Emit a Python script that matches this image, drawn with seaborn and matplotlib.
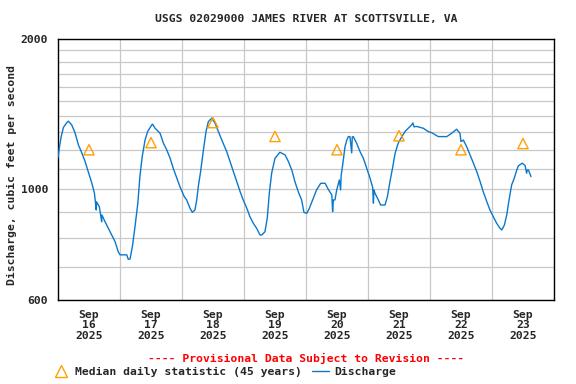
import pandas as pd
import numpy as np
import matplotlib
matplotlib.use('Agg')
import matplotlib.pyplot as plt
from matplotlib.lines import Line2D
from matplotlib.ticker import FixedLocator, NullFormatter, FixedFormatter
import seaborn as sns

# discharge: hours after 2025-09-16 00:00, cfs
hours = [0.0, 0.4, 1.2, 2.1, 3.4, 4.0, 5.3, 6.6, 7.9, 9.2, 10.5, 11.7, 13.1, 14.1,
         14.8, 14.9, 16.0, 16.9, 17.0, 18.2, 19.5, 20.8, 22.1, 23.3, 24.0, 26.6, 27.2,
         27.9, 28.8, 29.8, 30.9, 31.7, 32.6, 33.7, 34.7, 36.3, 36.6, 37.6, 39.5, 40.8,
         42.1, 43.4, 44.6, 46.0, 47.2, 48.9, 49.8, 51.1, 52.0, 53.0, 53.7, 54.3, 55.2,
         56.3, 57.3, 58.2, 59.5, 60.8, 62.1, 63.4, 65.3, 66.6, 67.9, 69.2, 70.5, 71.7,
         73.1, 74.3, 75.6, 76.9, 78.2, 78.9, 80.1, 81.0, 81.8, 82.7, 84.0, 85.9, 87.9,
         89.2, 90.5, 91.7, 93.0, 94.3, 95.2, 96.3, 97.3, 98.8, 100.1, 101.7, 103.4,
         104.6, 106.0, 106.3, 106.6, 107.2, 107.9, 108.9, 109.4, 109.6, 110.2, 111.1,
         111.8, 112.4, 113.0, 113.7, 113.9, 114.3, 115.6, 116.9, 118.2, 119.5, 120.8,
         121.8, 122.1, 122.3, 122.7, 124.0, 124.9, 126.6, 127.5, 128.5, 129.6, 130.5,
         131.7, 133.1, 134.3, 135.6, 136.9, 137.4, 137.8, 138.9, 141.4, 143.3, 144.7,
         147.2, 150.5, 152.4, 154.3, 155.6, 156.0, 156.9, 158.2, 159.5, 160.8, 162.1,
         163.4, 164.6, 166.0, 167.2, 168.5, 169.8, 171.1, 171.8, 172.8, 173.7, 174.6,
         175.6, 176.6, 177.6, 178.2, 179.7, 180.8, 181.4, 181.7, 182.1, 183.1]
cfs = [1156, 1199, 1273, 1330, 1360, 1369, 1346, 1297, 1227, 1183, 1136, 1085, 1028, 982,
       909, 944, 923, 861, 888, 861, 835, 810, 785, 750, 739, 739, 724,
       725, 768, 841, 938, 1060, 1163, 1255, 1305, 1346, 1350, 1325, 1295, 1237,
       1199, 1154, 1102, 1052, 1012, 966, 952, 916, 899, 909, 952, 1012, 1085,
       1199, 1305, 1366, 1388, 1356, 1305, 1255, 1190, 1136, 1085, 1036, 989, 952,
       916, 881, 855, 835, 810, 810, 822, 875, 982, 1077, 1154, 1186, 1172,
       1136, 1093, 1036, 989, 952, 899, 895, 916, 959, 997, 1028, 1028,
       1000, 974, 902, 952, 952, 997, 1044, 997, 1065, 1119, 1217,
       1255, 1275, 1275, 1183, 1273, 1275, 1237, 1190, 1154, 1102, 1052,
       1009, 938, 997, 982, 952, 930, 930, 966, 1036, 1110, 1181,
       1237, 1275, 1305, 1325, 1346, 1358, 1334, 1336, 1325, 1305, 1298,
       1275, 1275, 1295, 1319, 1295, 1246, 1255, 1217, 1172, 1128, 1085,
       1036, 989, 944, 909, 881, 855, 835, 829, 848, 888, 952,
       1020, 1052, 1093, 1114, 1128, 1116, 1077, 1093, 1093, 1060]

# median daily statistic (45 years), plotted at noon
median_days = ['2025-09-16', '2025-09-17', '2025-09-18', '2025-09-19',
               '2025-09-20', '2025-09-21', '2025-09-22', '2025-09-23']
median_cfs = [1200, 1240, 1360, 1276, 1200, 1280, 1200, 1235]

title = 'USGS 02029000 JAMES RIVER AT SCOTTSVILLE, VA'
ylabel = 'Discharge, cubic feet per second'
y_major = [600, 1000, 2000]
y_minor = [700, 800, 900, 1100, 1200, 1300, 1400, 1500, 1600, 1700, 1800, 1900]

t0 = pd.Timestamp('2025-09-16')
df = pd.DataFrame({'time': t0 + pd.to_timedelta(hours, unit='h'), 'cfs': cfs})
med = pd.DataFrame({'time': pd.to_datetime(median_days) + pd.Timedelta(hours=12),
                    'cfs': median_cfs})

sns.set_style('white')
plt.rcParams['font.family'] = ['DejaVu Sans Mono']
plt.rcParams['font.weight'] = 'bold'
FS = 8.2
blue = '#0a78cc'
orange = '#ffa000'

fig = plt.figure(figsize=(5.76, 3.84), dpi=100)
ax = fig.add_axes([58/576, 1-300/384, 496/576, 261/384])

sns.lineplot(data=df, x='time', y='cfs', ax=ax, color=blue, lw=1.0, zorder=3)
sns.scatterplot(data=med, x='time', y='cfs', ax=ax, marker='^', s=55,
                facecolors='none', edgecolors=orange, linewidths=1.0, zorder=4)

ax.set_yscale('log')
ax.set_ylim(600, 2000)
ax.set_xlim(t0, t0 + pd.Timedelta(days=8))

ax.yaxis.set_major_locator(FixedLocator(y_major))
ax.yaxis.set_major_formatter(FixedFormatter([str(v) for v in y_major]))
ax.yaxis.set_minor_locator(FixedLocator(y_minor))
ax.yaxis.set_minor_formatter(NullFormatter())

days = pd.date_range('2025-09-16', periods=8, freq='D')
ax.set_xticks(list(days[1:]) + [t0 + pd.Timedelta(days=8)], minor=True)
ax.set_xticks(days + pd.Timedelta(hours=12))
ax.set_xticklabels([d.strftime('%b\n%d\n%Y') for d in days], fontsize=FS,
                   fontweight='bold', linespacing=1.05)
ax.tick_params(axis='both', which='both', length=0, labelsize=FS)
ax.tick_params(axis='y', pad=7)
ax.tick_params(axis='x', pad=7)
for lab in ax.get_yticklabels():
    lab.set_fontweight('bold')

ax.grid(True, which='both', color='#c8c8c8', lw=0.9)
ax.grid(False, axis='x', which='major')
ax.set_axisbelow(True)
for s in ax.spines.values():
    s.set_color('black')
    s.set_linewidth(1.0)
ax.set_xlabel('')
ax.set_ylabel('')

fig.text(306/576, 1-19/384, title, ha='center', va='center', fontsize=FS, fontweight='bold')
fig.text(12/576, 1-175/384, ylabel, rotation=90, ha='center', va='center',
         fontsize=FS, fontweight='bold')
fig.text(306/576, 1-358/384, '---- Provisional Data Subject to Revision ----',
         ha='center', va='center', fontsize=FS, fontweight='bold', color='red')

handles = [Line2D([], [], ls='', marker='^', ms=8, mfc='none', mec=orange, mew=1.0),
           Line2D([], [], color=blue, lw=1.0)]
fig.legend(handles, ['Median daily statistic (45 years)', 'Discharge'], ncol=2,
           loc='center left', bbox_to_anchor=(52/576, 1-372/384), frameon=False,
           fontsize=FS, handlelength=1.5, handletextpad=0.5, columnspacing=0.9,
           borderpad=0, borderaxespad=0, prop={'weight': 'bold', 'size': FS})

fig.savefig('out.png', dpi=100)
